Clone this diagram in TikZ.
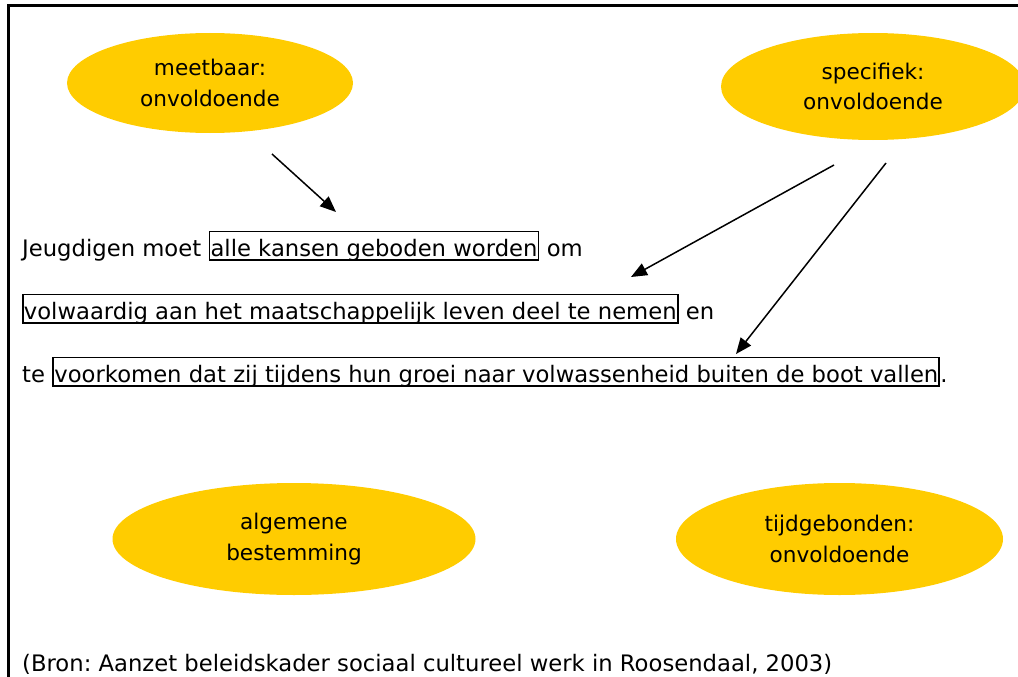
\documentclass[tikz,border=0pt]{standalone}
\usepackage{fontspec}
\setmainfont{DejaVu Sans}
\usetikzlibrary{arrows.meta,shapes.geometric}
\definecolor{gold}{RGB}{255,204,0}
\frenchspacing
\tikzset{
  oval/.style={ellipse, fill=gold, draw=none, inner sep=0pt, align=center,
    font=\fontsize{21.6}{30.5}\selectfont},
  txt/.style={inner sep=0pt, anchor=base west, font=\fontsize{22.7}{26}\selectfont},
  tbox/.style={txt, draw, line width=1.8pt, text height=24.5pt, text depth=3.8pt, inner xsep=1pt},
  arr/.style={line width=1.5pt, -{Triangle[length=16pt,width=13pt]}},
}
\begin{document}
\begin{tikzpicture}[x=1pt,y=-1pt]
\useasboundingbox (0,0) rectangle (1018,677);
\clip (0,0) rectangle (1018,677);
\draw[line width=3pt] (8,6) rectangle (1040,700);

\node[oval, minimum width=286pt, minimum height=100pt] (meet) at (210,83) {meetbaar:\\onvoldoende};
\node[oval, minimum width=304pt, minimum height=107pt] (spec) at (873,86.5) {specifiek:\\onvoldoende};
\node[oval, minimum width=363pt, minimum height=112pt] (alg) at (294,539) {algemene\\bestemming};
\node[oval, minimum width=327pt, minimum height=112pt] (tijd) at (839.5,539) {tijdgebonden:\\onvoldoende};

\node[txt] (l1a) at (22,256) {Jeugdigen moet\ \mbox{}};
\node[tbox] (b1) at (l1a.base east) {alle kansen geboden worden};
\node[txt] (l1c) at (b1.base east) {\ om};

\node[tbox] (b2) at (22,319) {volwaardig aan het maatschappelijk leven deel te nemen};
\node[txt] (l2c) at (b2.base east) {\ en};

\node[txt] (l3a) at (22,382) {te\ \mbox{}};
\node[tbox] (b3) at (l3a.base east) {voorkomen dat zij tijdens hun groei naar volwassenheid buiten de boot vallen};
\node[txt] (l3c) at (b3.base east) {.};

\node[txt] (src) at (22,671) {(Bron: Aanzet beleidskader sociaal cultureel werk in Roosendaal, 2003)};

\coordinate (s1) at (272,154);
\coordinate (t1) at (336,212);
\coordinate (s2) at (834,165);
\coordinate (t2) at (631,277);
\coordinate (s3) at (886,163);
\coordinate (t3) at (736,354);
\draw[arr] (s1) -- (t1);
\draw[arr] (s2) -- (t2);
\draw[arr] (s3) -- (t3);
\end{tikzpicture}
\end{document}
